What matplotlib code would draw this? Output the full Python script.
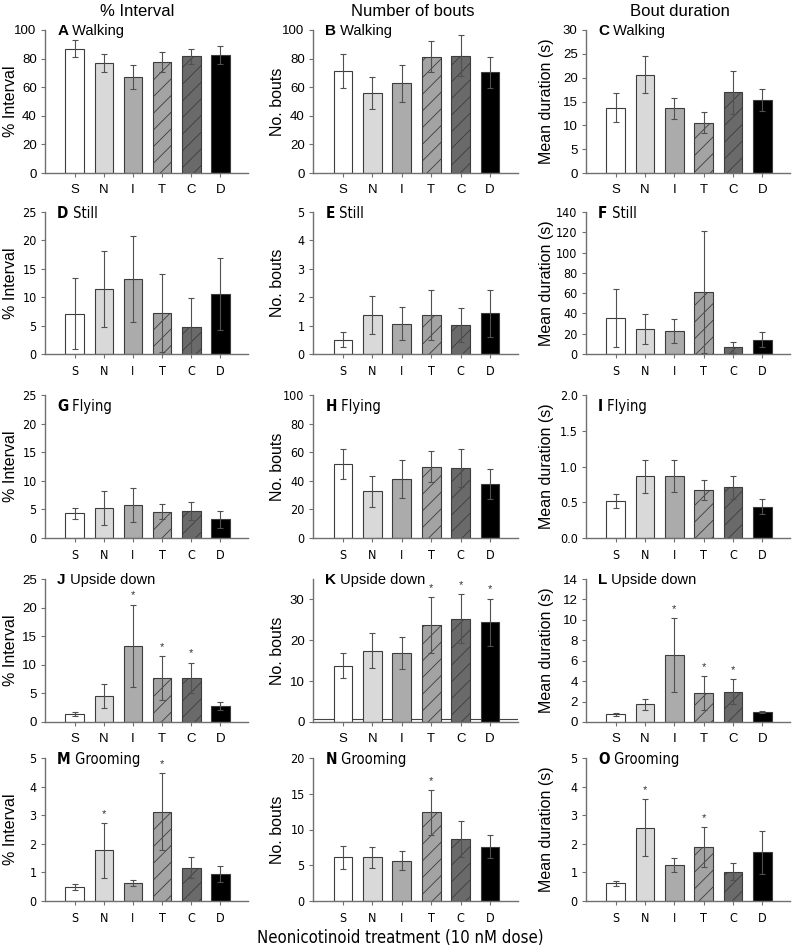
#!/usr/bin/env python3

import matplotlib
import numpy as np

matplotlib.use("Agg")
import matplotlib.pyplot as plt

treatments = ["S", "N", "I", "T", "C", "D"]

walk_pct = [87, 77, 67, 77.5, 81.5, 82.5]
walk_pct_err = [6, 6.5, 8.5, 7, 5.5, 6]
walk_bouts = [71.3, 56, 62.7, 81.3, 82, 70.3]
walk_bouts_err = [11.9, 11.2, 12.9, 10.8, 14.4, 11]
walk_dur = [13.7, 20.6, 13.6, 10.5, 16.9, 15.3]
walk_dur_err = [3.0, 3.9, 2.2, 2.2, 4.6, 2.3]

still_pct = [7.1, 11.5, 13.2, 7.2, 4.8, 10.6]
still_pct_err = [6.2, 6.7, 7.5, 6.8, 5.0, 6.3]
still_bouts = [0.51, 1.37, 1.07, 1.37, 1.01, 1.43]
still_bouts_err = [0.27, 0.67, 0.59, 0.89, 0.6, 0.83]
still_dur = [35.5, 24.9, 22.5, 61.1, 6.8, 14]
still_dur_err = [28.7, 14.7, 12, 60.4, 5.5, 7.2]

fly_pct = [4.3, 5.3, 5.8, 4.6, 4.7, 3.3]
fly_pct_err = [1.0, 3.0, 3.0, 1.3, 1.6, 1.5]
fly_bouts = [51.8, 32.8, 41.2, 49.9, 49.2, 37.8]
fly_bouts_err = [10.4, 10.8, 13, 11, 13.2, 10.6]
fly_dur = [0.52, 0.865, 0.865, 0.67, 0.71, 0.44]
fly_dur_err = [0.1, 0.23, 0.22, 0.14, 0.16, 0.11]

ud_pct = [1.33, 4.47, 13.3, 7.7, 7.7, 2.84]
ud_pct_err = [0.35, 2.1, 7.2, 3.8, 2.7, 0.7]
ud_bouts = [13.8, 17.5, 16.8, 23.75, 25.25, 24.4]
ud_bouts_err = [3, 4.2, 3.9, 6.9, 6, 5.8]
ud_dur = [0.76, 1.72, 6.55, 2.83, 2.97, 1.0]
ud_dur_err = [0.17, 0.56, 3.65, 1.65, 1.23, 0.1]

groom_pct = [0.5, 1.77, 0.63, 3.12, 1.16, 0.95]
groom_pct_err = [0.1, 0.96, 0.1, 1.35, 0.37, 0.28]
groom_bouts = [6.12, 6.12, 5.64, 12.4, 8.63, 7.6]
groom_bouts_err = [1.6, 1.45, 1.35, 3.1, 2.5, 1.65]
groom_dur = [0.62, 2.56, 1.26, 1.88, 1.03, 1.70]
groom_dur_err = [0.09, 1.0, 0.25, 0.7, 0.29, 0.75]

# (letter, behaviour, values, errors, significant, ymax, ystep, tick format)
panels = [
    [("A", "Walking", walk_pct, walk_pct_err, [], 100, 20, "{:.0f}"),
     ("B", "Walking", walk_bouts, walk_bouts_err, [], 100, 20, "{:.0f}"),
     ("C", "Walking", walk_dur, walk_dur_err, [], 30, 5, "{:.0f}")],
    [("D", "Still", still_pct, still_pct_err, [], 25, 5, "{:.0f}"),
     ("E", "Still", still_bouts, still_bouts_err, [], 5, 1, "{:.0f}"),
     ("F", "Still", still_dur, still_dur_err, [], 140, 20, "{:.0f}")],
    [("G", "Flying", fly_pct, fly_pct_err, [], 25, 5, "{:.0f}"),
     ("H", "Flying", fly_bouts, fly_bouts_err, [], 100, 20, "{:.0f}"),
     ("I", "Flying", fly_dur, fly_dur_err, [], 2.0, 0.5, "{:.1f}")],
    [("J", "Upside down", ud_pct, ud_pct_err, ["I", "T", "C"], 25, 5, "{:.0f}"),
     ("K", "Upside down", ud_bouts, ud_bouts_err, ["T", "C", "D"], 35, 10, "{:.0f}"),
     ("L", "Upside down", ud_dur, ud_dur_err, ["I", "T", "C"], 14, 2, "{:.0f}")],
    [("M", "Grooming", groom_pct, groom_pct_err, ["N", "T"], 5, 1, "{:.0f}"),
     ("N", "Grooming", groom_bouts, groom_bouts_err, ["T"], 20, 5, "{:.0f}"),
     ("O", "Grooming", groom_dur, groom_dur_err, ["N", "T"], 5, 1, "{:.0f}")],
]

col_titles = ["% Interval", "Number of bouts", "Bout duration"]
y_labels = ["% Interval", "No. bouts", "Mean duration (s)"]

fills = ["white", "#d9d9d9", "#ababab", "#a3a3a3", "#6a6a6a", "black"]
hatches = [None, None, None, "//", "//", None]

W, H = 793, 949
col_x = [(45, 248), (313, 518), (586, 790)]
ylab_x = [11, 277, 546]
row_y = [(30, 173), (212, 354), (395, 538), (579, 722), (758, 901)]
narrow_rows = {1, 2, 4}

REG = dict(family=["Liberation Sans", "DejaVu Sans"])
NAR = dict(family=["DejaVu Sans"], stretch="condensed")

plt.rcParams["font.family"] = ["Liberation Sans", "DejaVu Sans"]
plt.rcParams["hatch.linewidth"] = 0.6

fig = plt.figure(figsize=(W / 100, H / 100), dpi=100)
x = np.arange(len(treatments))

for r, row in enumerate(panels):
    y0, y1 = row_y[r]
    narrow = r in narrow_rows
    fnt = NAR if narrow else REG
    tick_fs = 9 if narrow else 9.5
    for c, (letter, name, vals, errs, sig, ymax, ystep, fmt) in enumerate(row):
        x0, x1 = col_x[c]
        ax = fig.add_axes([x0 / W, 1 - y1 / H, (x1 - x0) / W, (y1 - y0) / H])
        bars = ax.bar(x, vals, width=0.64, color=fills, edgecolor="#3c3c3c", linewidth=0.8, zorder=2)
        for b, h in zip(bars, hatches):
            if h:
                b.set_hatch(h)
        ax.errorbar(x, vals, yerr=errs, fmt="none", ecolor="#505050", elinewidth=0.8,
                    capsize=2.2, capthick=0.8, zorder=3)
        for t in sig:
            i = treatments.index(t)
            ax.annotate("*", (i, vals[i] + errs[i]), xytext=(0, 3), textcoords="offset points",
                        ha="center", va="bottom", fontsize=8, color="#333333")
        if letter == "K":
            ax.axhline(0.8, color="#444444", lw=0.8, zorder=1)

        ax.set_xlim(-1.02, 5.95)
        ax.set_ylim(0, ymax)
        ticks = np.arange(0, ymax + 1e-9, ystep)
        ax.set_yticks(ticks)
        ax.set_yticklabels([fmt.format(v) for v in ticks], fontsize=tick_fs, **fnt)
        ax.set_xticks(x)
        ax.set_xticklabels(treatments, fontsize=tick_fs, **fnt)
        ax.tick_params(axis="y", direction="out", length=3, width=0.8, color="#707070", pad=3)
        ax.tick_params(axis="x", direction="out", length=3, width=0.8, color="#707070", pad=5)
        for s in ("top", "right"):
            ax.spines[s].set_visible(False)
        for s in ("left", "bottom"):
            ax.spines[s].set_color("#707070")
            ax.spines[s].set_linewidth(1.0)
        ax.set_ylabel(y_labels[c], fontsize=11.5, va="center")
        ax.yaxis.set_label_coords((ylab_x[c] - x0) / (x1 - x0), 0.5)

        ly = 0.92 if r == 2 else 0.99
        lab = ax.text(0.06, ly, letter, transform=ax.transAxes, weight="bold",
                      fontsize=11, va="center", ha="left", **fnt)
        ax.annotate(" " + name, xy=(1, 0.5), xycoords=lab, fontsize=10.5,
                    va="center", ha="left", **fnt)

title_x = [137, 413, 680]
for tx, t in zip(title_x, col_titles):
    fig.text(tx / W, 1 - 12 / H, t, ha="center", va="center", fontsize=12)

fig.text(400 / W, 1 - 938 / H, "Neonicotinoid treatment (10 nM dose)", ha="center", va="center",
         fontsize=12, **NAR)

fig.savefig("out.png", dpi=100)
plt.close(fig)
